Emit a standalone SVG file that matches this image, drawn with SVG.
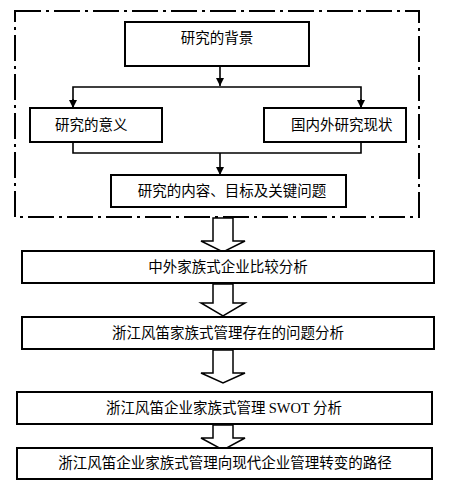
<svg xmlns="http://www.w3.org/2000/svg" width="451" height="490" viewBox="0 0 451 490">
<style>
.box{fill:#fff;stroke:#000;stroke-width:2}
.t{font-family:"Noto Sans CJK SC","Noto Sans CJK JP",sans-serif;font-size:14.5px;fill:#000}
.s{font-family:"Liberation Serif",serif}
.ln{fill:none;stroke:#000;stroke-width:1.6}
.blk{fill:#fff;stroke:#000;stroke-width:1.5;stroke-linejoin:miter}
</style>
<defs>
<marker id="ah" viewBox="0 0 8 8" refX="8" refY="4" markerWidth="8" markerHeight="8" markerUnits="userSpaceOnUse" orient="auto">
<path d="M0,0 L8,4 L0,8 Z" fill="#000"/>
</marker>
</defs>
<rect width="451" height="490" fill="#fff"/>
<rect id="frame" x="15" y="11" width="404" height="206" fill="none" stroke="#000" stroke-width="2" stroke-dasharray="26,5,3,5"/>
<g id="connectors">
<line class="ln" x1="220" y1="66" x2="220" y2="86" marker-end="url(#ah)"/>
<polyline class="ln" points="73,107 73,87 361,87 361,107"/>
<line class="ln" x1="73" y1="99" x2="73" y2="108" marker-end="url(#ah)"/>
<line class="ln" x1="361" y1="99" x2="361" y2="108" marker-end="url(#ah)"/>
<polyline class="ln" points="73,142 73,153 361,153 361,142"/>
<line class="ln" x1="220" y1="153" x2="220" y2="175" marker-end="url(#ah)"/>
<polygon class="blk" points="213,218 233,218 233,241 245,241 223,252 201,241 213,241"/>
<polygon class="blk" points="213,284 233,284 233,303 245,303 223,316 201,303 213,303"/>
<polygon class="blk" points="213,350 233,350 233,373 245,373 223,383 201,373 213,373"/>
<polygon class="blk" points="213,425 233,425 233,438 245,438 223,450 201,438 213,438"/>
</g>
<g id="n1"><rect class="box" x="125" y="22" width="184" height="44"/><text class="t" x="217" y="43" text-anchor="middle">研究的背景</text></g>
<g id="n2"><rect class="box" x="30" y="108" width="132" height="34"/><text class="t" x="55" y="130">研究的意义</text></g>
<g id="n3"><rect class="box" x="264" y="108" width="142" height="34"/><text class="t" x="291" y="130">国内外研究现状</text></g>
<g id="n4"><rect class="box" x="111" y="175" width="235" height="32"/><text class="t" x="232" y="196" text-anchor="middle">研究的内容、目标及关键问题</text></g>
<g id="n5"><rect class="box" x="22" y="251" width="412" height="32"/><text class="t" x="228" y="272" text-anchor="middle">中外家族式企业比较分析</text></g>
<g id="n6"><rect class="box" x="22" y="317" width="412" height="32"/><text class="t" x="228" y="338" text-anchor="middle">浙江风笛家族式管理存在的问题分析</text></g>
<g id="n7"><rect class="box" x="17" y="392" width="415" height="32"/><text class="t" x="224" y="413" text-anchor="middle">浙江风笛企业家族式管理 <tspan class="s">SWOT</tspan> 分析</text></g>
<g id="n8"><rect class="box" x="17" y="448" width="415" height="31"/><text class="t" x="225" y="468" text-anchor="middle">浙江风笛企业家族式管理向现代企业管理转变的路径</text></g>
</svg>
